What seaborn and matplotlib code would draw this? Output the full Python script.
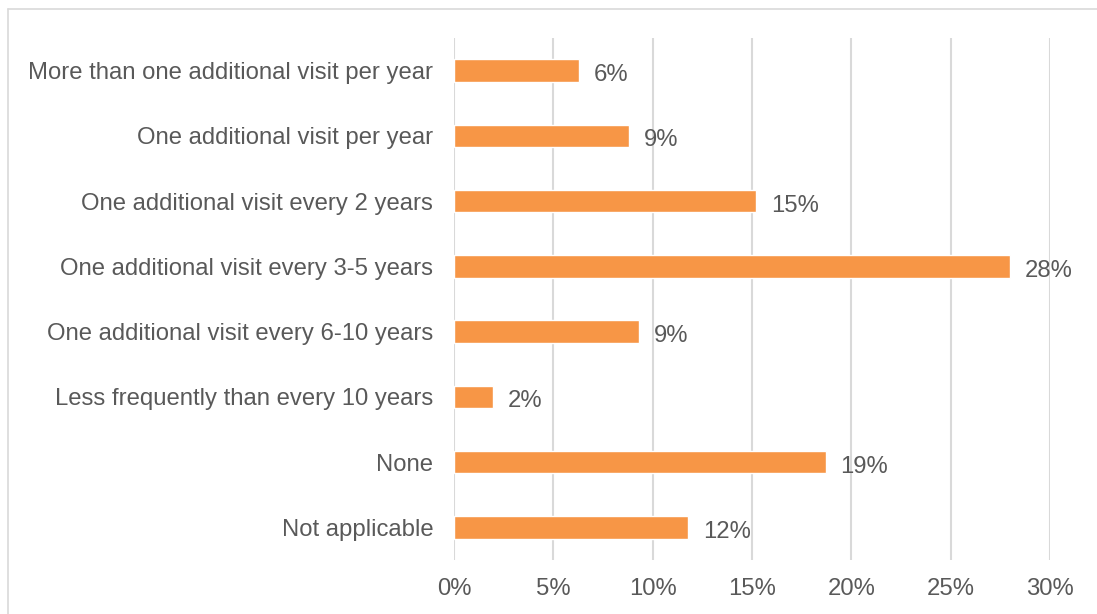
import matplotlib
matplotlib.use("Agg")
import matplotlib.pyplot as plt
from matplotlib.lines import Line2D
from matplotlib.ticker import PercentFormatter
import seaborn as sns
import pandas as pd

categories = [
    "More than one additional visit per year",
    "One additional visit per year",
    "One additional visit every 2 years",
    "One additional visit every 3-5 years",
    "One additional visit every 6-10 years",
    "Less frequently than every 10 years",
    "None",
    "Not applicable",
]
shares = [6.3, 8.8, 15.2, 28.0, 9.3, 1.95, 18.7, 11.8]
x_ticks = [0, 5, 10, 15, 20, 25, 30]

df = pd.DataFrame({"category": categories, "share": shares})

sns.set_theme(style="white")
plt.rcParams["font.family"] = ["Liberation Sans", "DejaVu Sans"]

text_color = "#595959"
bar_color = "#F79646"
grid_color = "#D9D9D9"
fs = 17.2

fig = plt.figure(figsize=(10.97, 6.14), dpi=100)
ax = fig.add_axes([0.4139, 0.0879, 0.9572 - 0.4139, 0.9381 - 0.0879])

sns.barplot(data=df, x="share", y="category", color=bar_color,
            saturation=1, width=0.345, ax=ax, zorder=3)

ax.set_xlim(0, 30)
ax.set_ylim(len(categories) - 0.5, -0.5)
ax.set_xticks(x_ticks)
ax.xaxis.set_major_formatter(PercentFormatter(decimals=0))
ax.grid(axis="x", color=grid_color, linewidth=1.5, zorder=0)
ax.grid(axis="y", visible=False)
for s in ax.spines.values():
    s.set_visible(False)
ax.set_xlabel("")
ax.set_ylabel("")
ax.tick_params(axis="x", length=0, pad=13, labelsize=fs, labelcolor=text_color)
ax.tick_params(axis="y", length=0, pad=15, labelsize=fs, labelcolor=text_color)

for i, v in enumerate(shares):
    ax.text(v + 0.75, i + 0.03, f"{v:.0f}%", va="center_baseline", ha="left",
            fontsize=fs, color=text_color)

# chart area border (top and left edges)
fig.add_artist(Line2D([8 / 1097, 8 / 1097], [0, 1 - 9 / 614],
                      transform=fig.transFigure, color=grid_color, linewidth=1.2))
fig.add_artist(Line2D([8 / 1097, 1], [1 - 9 / 614, 1 - 9 / 614],
                      transform=fig.transFigure, color=grid_color, linewidth=1.2))

fig.savefig("out.png", dpi=100)
